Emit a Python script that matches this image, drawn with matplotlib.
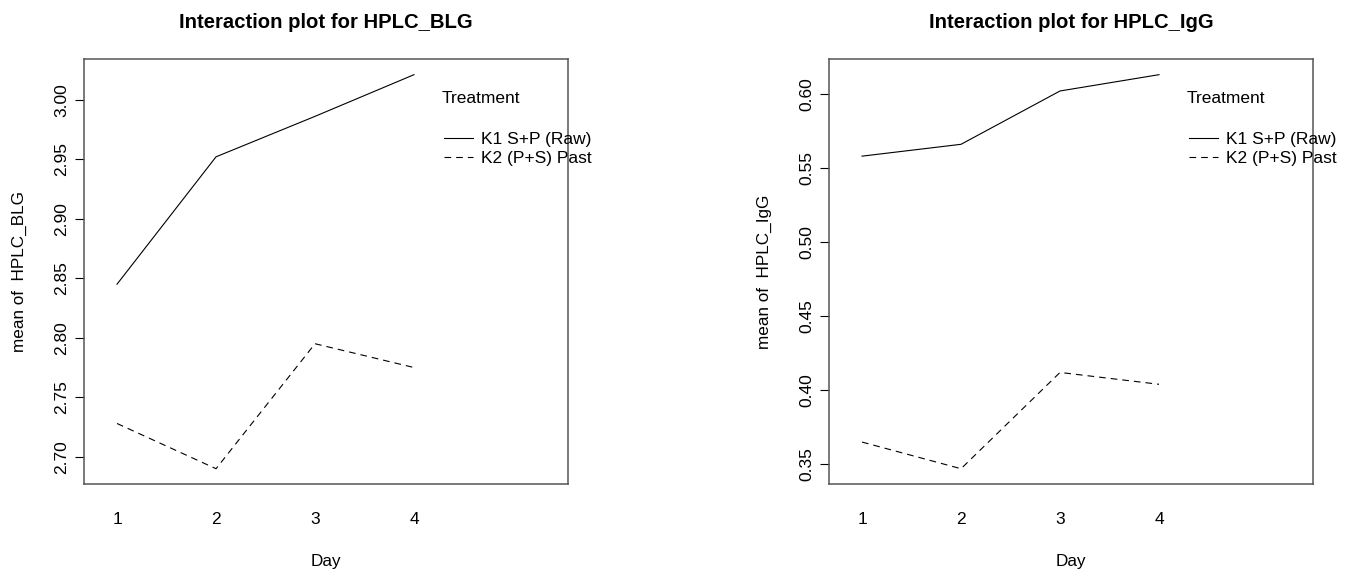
import matplotlib
matplotlib.use("Agg")
import matplotlib.pyplot as plt

plt.rcParams['font.family'] = ['Liberation Sans', 'DejaVu Sans']

days = [1, 2, 3, 4]
treatments = ['K1 S+P (Raw)', 'K2 (P+S) Past']

blg_k1 = [2.845, 2.952, 2.986, 3.021]
blg_k2 = [2.728, 2.690, 2.795, 2.775]
igg_k1 = [0.558, 0.566, 0.602, 0.613]
igg_k2 = [0.365, 0.347, 0.412, 0.404]

blg_ticks = [2.70, 2.75, 2.80, 2.85, 2.90, 2.95, 3.00]
igg_ticks = [0.35, 0.40, 0.45, 0.50, 0.55, 0.60]

fig = plt.figure(figsize=(13.58, 5.72), dpi=100)
ax1 = fig.add_axes([0.0619, 0.153, 0.3564, 0.744])
ax2 = fig.add_axes([0.6105, 0.153, 0.3564, 0.744])


def interaction(ax, k1, k2, yticks, name):
    ax.plot(days, k1, color='black', lw=0.8, label=treatments[0])
    ax.plot(days, k2, color='black', lw=0.8, dashes=(6, 4.5), label=treatments[1])
    lo = min(k1 + k2)
    hi = max(k1 + k2)
    pad = (hi - lo) * 0.04
    ax.set_ylim(lo - pad, hi + pad)
    ax.set_xlim(0.667, 5.556)
    ax.set_xticks(days)
    ax.set_xticklabels([str(d) for d in days])
    ax.tick_params(axis='x', length=0, pad=20, labelsize=12.5)
    ax.set_yticks(yticks)
    ax.set_yticklabels(['%.2f' % t for t in yticks], rotation=90, va='center')
    ax.tick_params(axis='y', length=6.5, width=0.8, pad=4, labelsize=12.5)
    for s in ax.spines.values():
        s.set_color('#555555')
        s.set_linewidth(1.1)
    ax.set_xlabel('Day', fontsize=12.3, labelpad=19)
    ax.set_ylabel('mean of  ' + name, fontsize=12.3, labelpad=20)
    ax.set_title('Interaction plot for ' + name, fontsize=14.6, fontweight='bold', pad=22)
    ax.text(0.739, 0.9076, 'Treatment', transform=ax.transAxes, fontsize=12.5,
            ha='left', va='center')
    ax.legend(loc='upper left', bbox_to_anchor=(0.744, 0.828), frameon=False,
              fontsize=12.5, handlelength=1.65, handletextpad=0.5, labelspacing=0.2,
              borderpad=0, borderaxespad=0)


interaction(ax1, blg_k1, blg_k2, blg_ticks, 'HPLC_BLG')
interaction(ax2, igg_k1, igg_k2, igg_ticks, 'HPLC_IgG')

fig.savefig('out.png', dpi=100)
